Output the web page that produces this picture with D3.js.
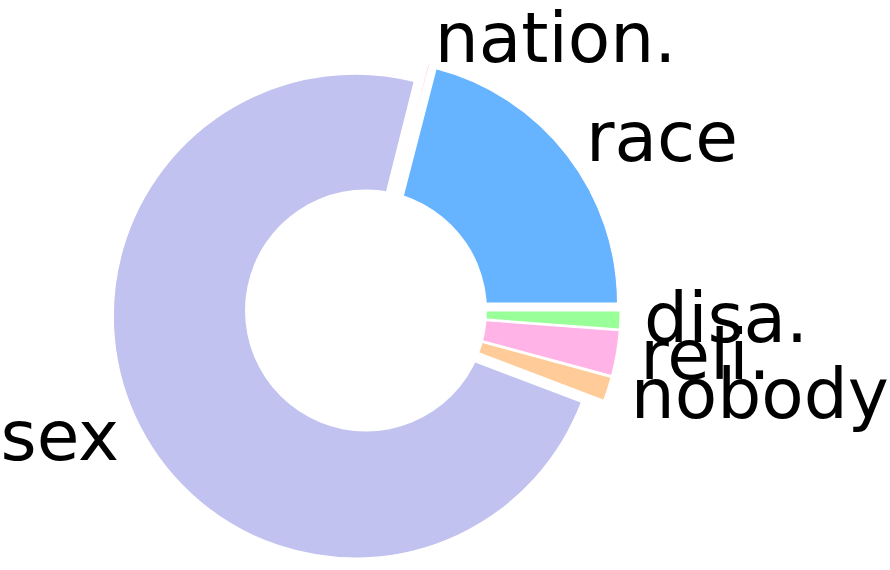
<!DOCTYPE html>
<html><head><meta charset="utf-8">
<script src="https://cdn.jsdelivr.net/npm/d3@7"></script>
<style>html,body{margin:0;padding:0;background:#fff;} svg{display:block;}</style>
</head><body>
<svg id="chart" width="890" height="570"></svg>
<script>
// Data (counter-clockwise from 3 o'clock, matplotlib style)
const categories = ["race", "nation.", "sex", "nobody", "reli.", "disa."];
const values = [21.0, 0.1, 73.2, 1.6, 3.0, 1.2];
const colors = ["#66b3ff", "#ff9999", "#c2c2f0", "#ffcc99", "#ffb3e6", "#99ff99"];
const explode = [0.05, 0.05, 0.05, 0.05, 0.05, 0.05];

const W = 890, H = 570;
const cx = 366, cy = 310.5, R = 242;
const holeFrac = 0.5, labelDist = 1.1;
const fontSize = 69.4;

const svg = d3.select("#chart");
svg.append("rect").attr("width", W).attr("height", H).attr("fill", "#fff");

const data = categories.map((c, i) => ({ cat: c, value: values[i], color: colors[i], ex: explode[i] }));
// pie angles used as math angles (CCW from east)
const pie = d3.pie().sort(null).value(d => d.value).startAngle(0).endAngle(2 * Math.PI);
const arcs = pie(data);
const arc = d3.arc().innerRadius(0).outerRadius(R);

const g = svg.append("g").attr("transform", `translate(${cx},${cy})`);

arcs.forEach(a => {
  const ms = a.startAngle, me = a.endAngle, mid = (ms + me) / 2;
  const e = a.data.ex * R;
  const dx = e * Math.cos(mid), dy = -e * Math.sin(mid);
  g.append("path")
    .attr("d", arc({ startAngle: Math.PI / 2 - me, endAngle: Math.PI / 2 - ms }))
    .attr("transform", `translate(${dx},${dy})`)
    .attr("fill", a.data.color)
    .attr("stroke", "#fff")
    .attr("stroke-width", 1.2)
    .attr("stroke-linejoin", "round");
});

// center hole
g.append("circle").attr("r", R * holeFrac).attr("fill", "#fff");

// labels
arcs.forEach(a => {
  const mid = (a.startAngle + a.endAngle) / 2;
  const e = a.data.ex * R;
  const rr = labelDist * R + e;
  const x = rr * Math.cos(mid), y = -rr * Math.sin(mid);
  g.append("text")
    .attr("x", x)
    .attr("y", y + 0.306 * fontSize)
    .attr("text-anchor", x > 0 ? "start" : "end")
    .attr("font-family", "DejaVu Sans")
    .attr("font-size", fontSize)
    .attr("fill", "#000")
    .text(a.data.cat);
});
</script>
</body></html>
